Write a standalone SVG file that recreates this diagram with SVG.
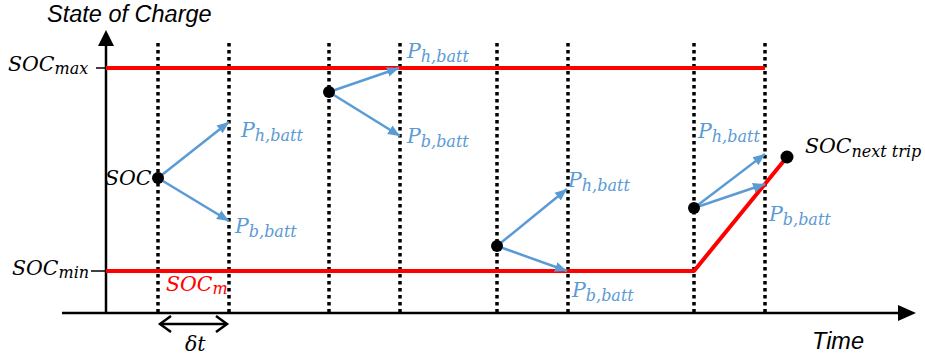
<svg xmlns="http://www.w3.org/2000/svg" width="925" height="360" viewBox="0 0 925 360">
  <style>
    .axis { stroke: #000; stroke-width: 2.5; fill: none; }
    .tick { stroke: #000; stroke-width: 1.5; }
    .dot-line { stroke: #000; stroke-width: 3.5; stroke-dasharray: 3.5 3.5; fill: none; }
    .red { stroke: #FF0000; stroke-width: 4; fill: none; stroke-linejoin: round; }
    .blue { stroke: #5B9BD5; stroke-width: 2.5; fill: none; marker-end: url(#bh); }
    .math { font-family: "DejaVu Serif", "Liberation Serif", serif; font-style: italic; font-size: 20.5px; }
    .sub { font-size: 16px; }
    .blk { fill: #000; }
    .bl { fill: #5B9BD5; }
    .rd { fill: #FF0000; }
    .sans { font-family: "Liberation Sans", Arial, sans-serif; font-style: italic; font-size: 23.5px; fill: #000; }
  </style>
  <defs>
    <marker id="bh" markerUnits="userSpaceOnUse" markerWidth="14" markerHeight="12" refX="12" refY="5" orient="auto" viewBox="0 0 14 10">
      <path d="M0,0 L12,5 L0,10 Z" fill="#5B9BD5"/>
    </marker>
    <marker id="ch" markerUnits="userSpaceOnUse" markerWidth="16" markerHeight="18" refX="12" refY="9" orient="auto-start-reverse" viewBox="0 0 16 18">
      <path d="M1,1 L12,9 L1,17" fill="none" stroke="#000" stroke-width="2.5"/>
    </marker>
  </defs>

  <!-- axes -->
  <g id="axes">
    <line class="axis" x1="106" y1="313" x2="106" y2="42"/>
    <path d="M106,30 L98,46 L114,46 Z" fill="#000"/>
    <line class="axis" x1="62" y1="313" x2="902" y2="313"/>
    <path d="M916,313 L898,305 L898,321 Z" fill="#000"/>
    <line class="tick" x1="96" y1="68" x2="113" y2="68"/>
    <line class="tick" x1="91" y1="271" x2="106" y2="271"/>
    <text class="sans" x="47" y="22">State of Charge</text>
    <text class="sans" x="812" y="349">Time</text>
  </g>

  <!-- dotted time lines -->
  <g id="timelines">
    <line class="dot-line" x1="158" y1="43" x2="158" y2="313"/>
    <line class="dot-line" x1="229" y1="43" x2="229" y2="313"/>
    <line class="dot-line" x1="329" y1="43" x2="329" y2="313"/>
    <line class="dot-line" x1="400" y1="43" x2="400" y2="313"/>
    <line class="dot-line" x1="497" y1="43" x2="497" y2="313"/>
    <line class="dot-line" x1="568" y1="43" x2="568" y2="313"/>
    <line class="dot-line" x1="694" y1="43" x2="694" y2="313"/>
    <line class="dot-line" x1="765" y1="43" x2="765" y2="313"/>
  </g>

  <!-- SOC limits -->
  <g id="soc-limits">
    <line class="red" x1="106" y1="68" x2="765" y2="68"/>
    <polyline class="red" points="106,271 694,271 787,157"/>
    <text class="math blk" x="8" y="71">SOC<tspan class="sub" dy="3">max</tspan></text>
    <text class="math blk" x="12" y="275">SOC<tspan class="sub" dy="3">min</tspan></text>
    <text class="math rd" x="166" y="291">SOC<tspan class="sub" dy="3">m</tspan></text>
  </g>

  <!-- connectors -->
  <g id="connectors">
    <line class="blue" x1="158" y1="178" x2="229" y2="122"/>
    <line class="blue" x1="158" y1="178" x2="229" y2="221"/>
    <line class="blue" x1="329" y1="92" x2="399" y2="68"/>
    <line class="blue" x1="329" y1="92" x2="400" y2="136"/>
    <line class="blue" x1="497" y1="246" x2="567" y2="189"/>
    <line class="blue" x1="497" y1="246" x2="567" y2="271"/>
    <line class="blue" x1="694" y1="208" x2="765" y2="154"/>
    <line class="blue" x1="694" y1="208" x2="765" y2="184"/>
  </g>

  <!-- nodes -->
  <g id="node-soc">
    <circle cx="158" cy="178" r="6" fill="#000"/>
    <text class="math blk" x="105" y="185">SOC</text>
  </g>
  <g id="node-2">
    <circle cx="329" cy="92" r="6" fill="#000"/>
  </g>
  <g id="node-3">
    <circle cx="497" cy="246" r="6" fill="#000"/>
  </g>
  <g id="node-4">
    <circle cx="694" cy="208" r="6" fill="#000"/>
  </g>
  <g id="node-next">
    <circle cx="787" cy="157" r="6.5" fill="#000"/>
    <text class="math blk" x="805" y="153">SOC<tspan class="sub" dy="4">next trip</tspan></text>
  </g>

  <!-- power labels -->
  <g id="labels">
    <text class="math bl" x="241" y="137">P<tspan class="sub" dy="4">h,batt</tspan></text>
    <text class="math bl" x="235" y="233">P<tspan class="sub" dy="4">b,batt</tspan></text>
    <text class="math bl" x="407" y="58">P<tspan class="sub" dy="4">h,batt</tspan></text>
    <text class="math bl" x="407" y="143">P<tspan class="sub" dy="4">b,batt</tspan></text>
    <text class="math bl" x="568" y="187">P<tspan class="sub" dy="4">h,batt</tspan></text>
    <text class="math bl" x="572" y="297">P<tspan class="sub" dy="4">b,batt</tspan></text>
    <text class="math bl" x="698" y="138">P<tspan class="sub" dy="4">h,batt</tspan></text>
    <text class="math bl" x="769" y="221">P<tspan class="sub" dy="4">b,batt</tspan></text>
  </g>

  <!-- delta t -->
  <g id="delta-t">
    <line x1="160" y1="324" x2="227" y2="324" stroke="#000" stroke-width="2.5" marker-start="url(#ch)" marker-end="url(#ch)"/>
    <text class="math blk" x="185" y="351">δt</text>
  </g>
</svg>
